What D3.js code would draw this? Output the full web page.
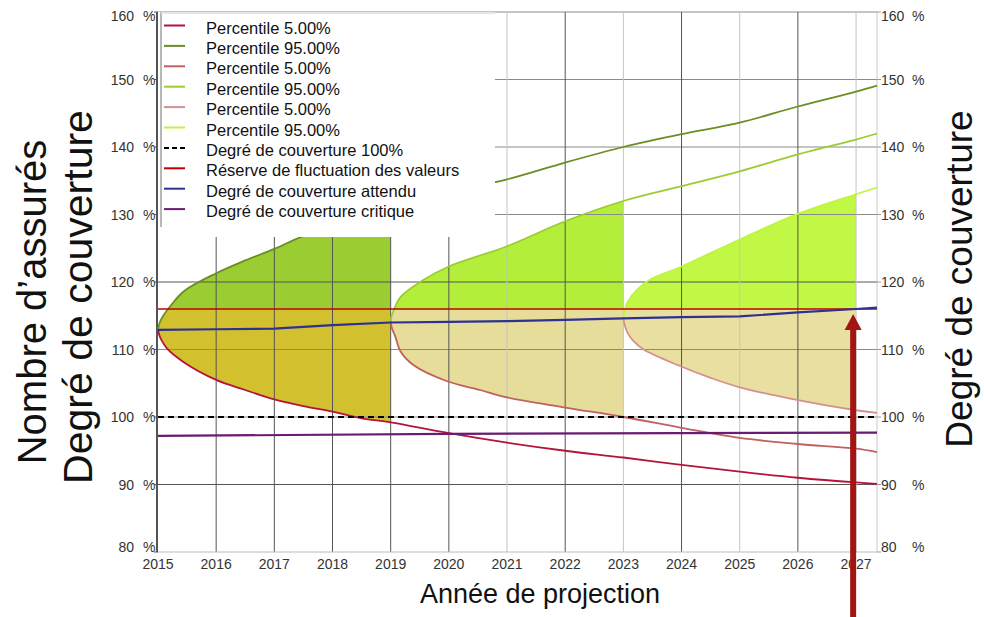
<!DOCTYPE html>
<html><head><meta charset="utf-8">
<script src="https://cdn.jsdelivr.net/npm/d3@7"></script>
<style>
body{margin:0;background:#fff;}
text{font-family:Arial,"Liberation Sans",Helvetica,sans-serif;}
</style>
</head><body>
<svg id="c" width="984" height="617"></svg>
<script>
// ---------------- DATA ----------------
const xTickYears = [2015,2016,2017,2018,2019,2020,2021,2022,2023,2024,2025,2026,2027];
const yTickValues = [80,90,100,110,120,130,140,150,160];
const legendLabels = [
  "Percentile 5.00%","Percentile 95.00%","Percentile 5.00%","Percentile 95.00%",
  "Percentile 5.00%","Percentile 95.00%","Degré de couverture 100%",
  "Réserve de fluctuation des valeurs","Degré de couverture attendu","Degré de couverture critique"
];
const xTitle = "Année de projection";
const yTitleLeft1 = "Nombre d’assurés";
const yTitleLeft2 = "Degré de couverture";
const yTitleRight = "Degré de couverture";

// funnel 1 (start 2015)
const f1UpperYears = [2015,2015.03,2015.09,2015.21,2015.44,2016,2016.5,2017,2017.44,2018,2019,2020,2021,2022,2023,2024,2025,2026,2027,2027.36];
const f1Upper      = [113,114,115,116.4,118.6,121.3,123.2,124.9,126.6,128.4,131,133.3,135.2,137.7,140,141.9,143.6,146,148.2,149.1];
const f1LowerYears = [2015,2015.02,2015.06,2015.15,2015.43,2016,2016.5,2017,2017.5,2018,2018.5,2019,2020,2021,2022,2023,2024,2025,2026,2027,2027.36];
const f1Lower      = [113,112.2,111.4,110.2,108.2,105.5,104,102.6,101.6,100.8,99.8,99.2,97.6,96.2,95,94,92.9,91.9,91,90.3,90.1];
// funnel 2 (start 2019)
const f2UpperYears = [2019,2019.02,2019.07,2019.17,2019.56,2020,2021,2022,2023,2024,2025,2026,2027,2027.36];
const f2Upper      = [114.2,115.1,116.2,117.8,120.3,122.3,125.3,129,132,134.2,136.4,138.9,141.1,142];
const f2LowerYears = [2019,2019.02,2019.08,2019.17,2019.39,2019.97,2020.54,2021,2022,2023,2024,2025,2026,2027,2027.36];
const f2Lower      = [114.2,113.2,111.9,109.7,107.7,105.3,104,102.9,101.4,100,98.4,96.9,96,95.3,94.8];
// funnel 3 (start 2023)
const f3UpperYears = [2023,2023.02,2023.07,2023.24,2023.47,2024,2025,2026,2027,2027.36];
const f3Upper      = [114.7,115.7,117,118.9,120.4,122.3,126.3,130.1,133,134];
const f3LowerYears = [2023,2023.02,2023.07,2023.18,2023.35,2023.93,2024.5,2025,2026,2027,2027.36];
const f3Lower      = [114.7,113.7,112.5,111.2,110,107.7,105.8,104.4,102.5,101,100.6];
const fillStartYears = [2015,2019,2023];
const fillEndYears   = [2019,2023,2027];

const expectedYears = [2015,2016,2017,2018,2019,2020,2021,2022,2023,2024,2025,2026,2027,2027.36];
const expected      = [112.9,113,113.1,113.6,114,114.1,114.2,114.4,114.6,114.8,114.9,115.5,116,116.2];
const criticalYears = [2015,2020,2027.36];
const critical      = [97.2,97.5,97.7];
const reserveValue = 116;
const fullCoverage = 100;
const xDomain = [2015, 2027.36];
const yDomain = [80, 160];
const arrowYear = 2026.95;

// ---------------- STYLE ----------------
const col = {
  p5a:"#b3143c", p95a:"#6b8e23", p5b:"#c06060", p95b:"#9acd32", p5c:"#d49090", p95c:"#bff542",
  dash:"#000", reserve:"#c00000", expected:"#2e3192", critical:"#6a1b72",
  fillUp:["#9acd32","#b3ee3a","#c0f845"], fillDown:["#d3c02f","#e6dd9b","#e8dfa0"],
  arrow:"#a31515"
};
const svg = d3.select("#c");
const x = d3.scaleLinear().domain(xDomain).range([158, 877]);
const y = d3.scaleLinear().domain(yDomain).range([552, 12]);
const zip = (xs, vs) => xs.map((d,i)=>[d, vs[i]]);
const line = d3.line().x(d=>x(d[0])).y(d=>y(d[1])).curve(d3.curveCatmullRom.alpha(0.5));
const lineLin = d3.line().x(d=>x(d[0])).y(d=>y(d[1]));

const funnels = [
  {up:zip(f1UpperYears,f1Upper), lo:zip(f1LowerYears,f1Lower)},
  {up:zip(f2UpperYears,f2Upper), lo:zip(f2LowerYears,f2Lower)},
  {up:zip(f3UpperYears,f3Upper), lo:zip(f3LowerYears,f3Lower)}
];
const defs = svg.append("defs");

// fills
funnels.forEach((f,i)=>{
  const x0 = x(fillStartYears[i]), x1 = x(fillEndYears[i]);
  const yr = y(reserveValue);
  defs.append("clipPath").attr("id","cu"+i).append("rect")
    .attr("x",x0).attr("y",0).attr("width",x1-x0).attr("height",yr);
  defs.append("clipPath").attr("id","cd"+i).append("rect")
    .attr("x",x0).attr("y",yr).attr("width",x1-x0).attr("height",617-yr);
  const d = line(f.up) + line(f.lo.slice().reverse()).replace(/^M/,"L") + "Z";
  svg.append("path").attr("d",d).attr("fill",col.fillUp[i]).attr("clip-path","url(#cu"+i+")");
  svg.append("path").attr("d",d).attr("fill",col.fillDown[i]).attr("clip-path","url(#cd"+i+")");
});

// grid
const g = svg.append("g");
yTickValues.filter(v=>v>80).forEach(v=>{
  g.append("line").attr("x1",x(xDomain[0])).attr("x2",x(xDomain[1]))
   .attr("y1",y(v)).attr("y2",y(v))
   .attr("stroke", (v===90||v===120)?"#555":"#8a8a8a").attr("stroke-width",1);
});
xTickYears.filter(d=>d>2015).forEach(d=>{
  g.append("line").attr("x1",x(d)).attr("x2",x(d)).attr("y1",y(yDomain[1])).attr("y2",y(yDomain[0]))
   .attr("stroke", (d%2===0||d===2017||d===2019)?"#555":"#c4c4c4").attr("stroke-width",1);
});
// axes frame
svg.append("line").attr("x1",x(xDomain[0])).attr("x2",x(xDomain[1])).attr("y1",y(80)).attr("y2",y(80)).attr("stroke","#bbb");
svg.append("line").attr("x1",x(xDomain[1])).attr("x2",x(xDomain[1])).attr("y1",y(160)).attr("y2",y(80)).attr("stroke","#c8c8c8");
svg.append("line").attr("x1",x(xDomain[0])-1).attr("x2",x(xDomain[0])-1).attr("y1",y(160)).attr("y2",y(80)).attr("stroke","#555").attr("stroke-width",2);

// percentile lines
const pl = [[0,"p5a","p95a"],[1,"p5b","p95b"],[2,"p5c","p95c"]];
pl.forEach(([i,c5,c95])=>{
  svg.append("path").attr("d",line(funnels[i].lo)).attr("fill","none").attr("stroke",col[c5]).attr("stroke-width",1.8);
  svg.append("path").attr("d",line(funnels[i].up)).attr("fill","none").attr("stroke",col[c95]).attr("stroke-width",1.8);
});
// reference lines
svg.append("path").attr("d",lineLin([[xDomain[0],reserveValue],[xDomain[1],reserveValue]]))
  .attr("stroke",col.reserve).attr("stroke-width",1.6).attr("fill","none");
svg.append("path").attr("d",lineLin([[xDomain[0],fullCoverage],[xDomain[1],fullCoverage]]))
  .attr("stroke",col.dash).attr("stroke-width",2).attr("stroke-dasharray","6,4").attr("fill","none");
svg.append("path").attr("d",lineLin(zip(expectedYears,expected)))
  .attr("stroke",col.expected).attr("stroke-width",2.2).attr("fill","none");
svg.append("path").attr("d",lineLin(zip(criticalYears,critical)))
  .attr("stroke",col.critical).attr("stroke-width",2.2).attr("fill","none");

// tick labels
const tl = svg.append("g").attr("fill","#333").attr("font-size",14);
yTickValues.forEach(v=>{
  const by = Math.min(Math.max(y(v)+5, 21), 552);
  tl.append("text").attr("x",134).attr("y",by).attr("text-anchor","end").text(v);
  tl.append("text").attr("x",143).attr("y",by).text("%");
  tl.append("text").attr("x",881).attr("y",by).text(v);
  tl.append("text").attr("x",912).attr("y",by).text("%");
  tl.append("line").attr("x1",x(xDomain[1])).attr("x2",x(xDomain[1])+4).attr("y1",y(v)).attr("y2",y(v)).attr("stroke","#999");
  tl.append("line").attr("x1",x(xDomain[0])-4).attr("x2",x(xDomain[0])).attr("y1",y(v)).attr("y2",y(v)).attr("stroke","#555");
});
xTickYears.forEach(d=>{
  tl.append("text").attr("x",x(d)).attr("y",569).attr("text-anchor","middle").text(d);
});

// titles
svg.append("text").attr("transform","translate(46,302) rotate(-90)").attr("text-anchor","middle")
  .attr("font-size",40).attr("fill","#111").text(yTitleLeft1);
svg.append("text").attr("transform","translate(92,297) rotate(-90)").attr("text-anchor","middle")
  .attr("font-size",41).attr("fill","#111").text(yTitleLeft2);
svg.append("text").attr("transform","translate(972,279) rotate(-90)").attr("text-anchor","middle")
  .attr("font-size",37).attr("fill","#111").text(yTitleRight);
svg.append("text").attr("x",540).attr("y",603).attr("text-anchor","middle")
  .attr("font-size",27).attr("fill","#111").text(xTitle);

// legend
const lg = svg.append("g");
lg.append("rect").attr("x",158).attr("y",12).attr("width",337).attr("height",225).attr("fill","#fff");
lg.append("line").attr("x1",161).attr("x2",161).attr("y1",12).attr("y2",227).attr("stroke","#a0a0a0").attr("stroke-width",1.5);
lg.append("line").attr("x1",161).attr("x2",495).attr("y1",13).attr("y2",13).attr("stroke","#ddd").attr("stroke-width",1.5);
const legColors = [col.p5a,col.p95a,col.p5b,col.p95b,col.p5c,col.p95c,col.dash,col.reserve,col.expected,col.critical];
legendLabels.forEach((t,i)=>{
  const cy = 27.5 + i*20.4;
  lg.append("line").attr("x1",164).attr("x2",185).attr("y1",cy-2).attr("y2",cy-2)
    .attr("stroke",legColors[i]).attr("stroke-width",2)
    .attr("stroke-dasharray", i===6 ? "5,3" : null);
  lg.append("text").attr("x",206).attr("y",cy+6).attr("font-size",16.5).attr("fill","#111").text(t);
});

// arrow annotation
const ax = x(arrowYear), tipY = y(reserveValue)+5;
svg.append("rect").attr("x",ax-3).attr("y",tipY+12).attr("width",6).attr("height",617-tipY).attr("fill",col.arrow);
svg.append("path").attr("d",`M${ax},${tipY} L${ax+8.5},${tipY+16} L${ax-8.5},${tipY+16} Z`).attr("fill",col.arrow);
</script>
</body></html>
